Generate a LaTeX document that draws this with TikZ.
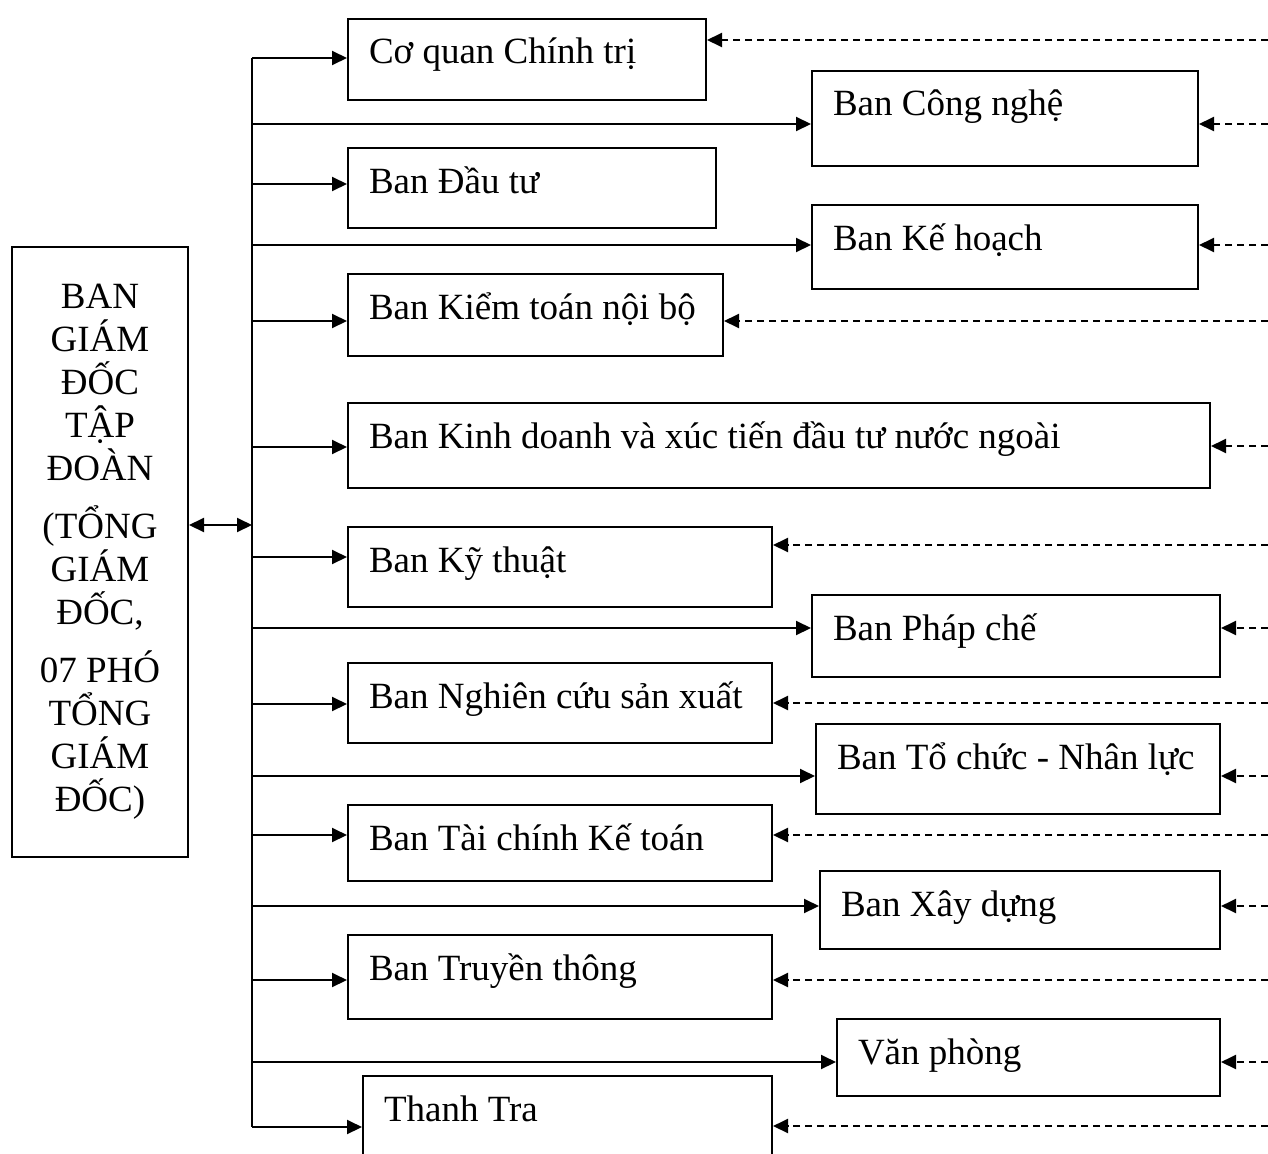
\documentclass[tikz,border=0pt]{standalone}
\usepackage{fontspec}
\setmainfont{Liberation Serif}
\usetikzlibrary{arrows.meta}

\begin{document}
\begin{tikzpicture}[x=1pt,y=-1pt,line join=miter,>={Triangle[length=15pt,width=14pt]},
  every node/.style={font=\fontsize{37}{43}\selectfont},
  bsize/.code 2 args={\pgfmathsetlengthmacro\bw{#1-42}\pgfmathsetlengthmacro\bd{#2-45}%
    \edef\bset{\noexpand\tikzset{text depth=\bd}}\bset},
  bbox/.style 2 args={draw,line width=2pt,anchor=north west,inner xsep=21pt,inner ysep=0pt,
    text height=45pt,bsize={#1}{#2},
    execute at begin node={\hbox to \bw\bgroup},execute at end node={\hfil\egroup}},
  conn/.style={->,line width=2pt},
  back/.style={->,line width=2pt,dash pattern=on 7pt off 5pt}]
  \useasboundingbox (0,0) rectangle (1268,1153);
  % board of directors
  \node[draw,line width=2pt,anchor=north west,minimum width=176pt,minimum height=610pt,
    inner sep=0pt,align=center] (gd) at (11,246)
    {BAN\\GIÁM\\ĐỐC\\TẬP\\ĐOÀN\\[15pt](TỔNG\\GIÁM\\ĐỐC,\\[15pt]07 PHÓ\\TỔNG\\GIÁM\\ĐỐC)};
  % departments, left column
  \node[bbox={358}{81}] (ctct) at (347,18) {Cơ quan Chính trị};
  \node[bbox={368}{80}] (dt) at (347,147) {Ban Đầu tư};
  \node[bbox={375}{82}] (kt) at (347,273) {Ban Kiểm toán nội bộ};
  \node[bbox={862}{85}] (kd) at (347,402) {Ban Kinh doanh và xúc tiến đầu tư nước ngoài};
  \node[bbox={424}{80}] (kyt) at (347,526) {Ban Kỹ thuật};
  \node[bbox={424}{80}] (nc) at (347,662) {Ban Nghiên cứu sản xuất};
  \node[bbox={424}{76}] (tckt) at (347,804) {Ban Tài chính Kế toán};
  \node[bbox={424}{84}] (tt) at (347,934) {Ban Truyền thông};
  \node[bbox={409}{120}] (thtr) at (362,1075) {Thanh Tra};
  % departments, right column
  \node[bbox={386}{95}] (cn) at (811,70) {Ban Công nghệ};
  \node[bbox={386}{84}] (kh) at (811,204) {Ban Kế hoạch};
  \node[bbox={408}{82}] (pc) at (811,594) {Ban Pháp chế};
  \node[bbox={404}{90}] (tc) at (815,723) {Ban Tổ chức - Nhân lực};
  \node[bbox={400}{78}] (xd) at (819,870) {Ban Xây dựng};
  \node[bbox={383}{77}] (vp) at (836,1018) {Văn phòng};
  % trunk
  \coordinate (top) at (252,58);
  \coordinate (bot) at (252,1127);
  \coordinate (hub) at (252,525);
  \draw[line width=2pt] (top) -- (bot);
  \draw[<->,line width=2pt] (gd.east |- hub) -- (hub);
  % solid links from the trunk
  \draw[conn] (top) -- (top -| ctct.west);
  \draw[conn] (252,124) coordinate (s2) -- (s2 -| cn.west);
  \draw[conn] (252,184) coordinate (s3) -- (s3 -| dt.west);
  \draw[conn] (252,245) coordinate (s4) -- (s4 -| kh.west);
  \draw[conn] (252,321) coordinate (s5) -- (s5 -| kt.west);
  \draw[conn] (252,447) coordinate (s6) -- (s6 -| kd.west);
  \draw[conn] (252,557) coordinate (s7) -- (s7 -| kyt.west);
  \draw[conn] (252,628) coordinate (s8) -- (s8 -| pc.west);
  \draw[conn] (252,704) coordinate (s9) -- (s9 -| nc.west);
  \draw[conn] (252,776) coordinate (s10) -- (s10 -| tc.west);
  \draw[conn] (252,835) coordinate (s11) -- (s11 -| tckt.west);
  \draw[conn] (252,906) coordinate (s12) -- (s12 -| xd.west);
  \draw[conn] (252,980) coordinate (s13) -- (s13 -| tt.west);
  \draw[conn] (252,1062) coordinate (s14) -- (s14 -| vp.west);
  \draw[conn] (bot) -- (bot -| thtr.west);
  % dashed links from the right edge
  \draw[back] (1268,40) coordinate (e1) -- (e1 -| ctct.east);
  \draw[back] (1268,124) coordinate (e2) -- (e2 -| cn.east);
  \draw[back] (1268,245) coordinate (e3) -- (e3 -| kh.east);
  \draw[back] (1268,321) coordinate (e4) -- (e4 -| kt.east);
  \draw[back] (1268,446) coordinate (e5) -- (e5 -| kd.east);
  \draw[back] (1268,545) coordinate (e6) -- (e6 -| kyt.east);
  \draw[back] (1268,628) coordinate (e7) -- (e7 -| pc.east);
  \draw[back] (1268,703) coordinate (e8) -- (e8 -| nc.east);
  \draw[back] (1268,776) coordinate (e9) -- (e9 -| tc.east);
  \draw[back] (1268,835) coordinate (e10) -- (e10 -| tckt.east);
  \draw[back] (1268,906) coordinate (e11) -- (e11 -| xd.east);
  \draw[back] (1268,980) coordinate (e12) -- (e12 -| tt.east);
  \draw[back] (1268,1062) coordinate (e13) -- (e13 -| vp.east);
  \draw[back] (1268,1126) coordinate (e14) -- (e14 -| thtr.east);
\end{tikzpicture}
\end{document}
